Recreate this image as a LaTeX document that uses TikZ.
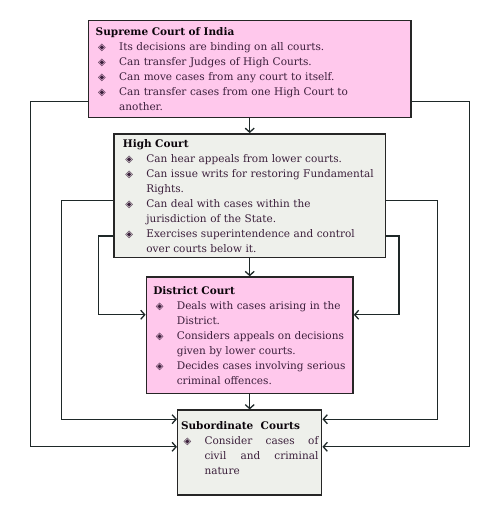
\documentclass[tikz,border=0pt]{standalone}
\usepackage{fontspec}
\setmainfont{DejaVu Serif}
\newfontfamily\symfont{DejaVu Sans}
\usetikzlibrary{positioning,arrows.meta}

\definecolor{courtpink}{HTML}{FFC8EC}
\definecolor{courtgray}{HTML}{EEF0EB}
\definecolor{courtink}{HTML}{3B1F3B}
\definecolor{courtline}{HTML}{1E2828}

\hyphenpenalty=10000
\newcommand{\ttl}[1]{\noindent\textbf{\color{black!80!courtink}#1}\par}
\newcommand{\itm}{\par\noindent\hangindent=23.5pt\hangafter=1\makebox[23.5pt][l]{\hspace{2.5pt}{\symfont\bfseries\fontsize{10}{10}\selectfont ◈}}}

\begin{document}
\begin{tikzpicture}[x=1pt, y=-1pt, line width=1.3pt, draw=courtline,
  court/.style = {draw=black!85, line width=1.5pt, rectangle, align=left, inner ysep=0pt,
                  font=\fontsize{10.5}{15}\selectfont, text=courtink},
  pinkbox/.style = {court, fill=courtpink},
  graybox/.style = {court, fill=courtgray},
  >={Straight Barb[length=4pt,width=9pt]}]
\useasboundingbox (0,0) rectangle (500,510);
% the four courts
\node[pinkbox, text width=308pt, minimum height=96.6pt, inner xsep=7.3pt] (sc) at (249.7,69) {%
  \ttl{Supreme Court of India}
  \itm Its decisions are binding on all courts.
  \itm Can transfer Judges of High Courts.
  \itm Can move cases from any court to itself.
  \itm Can transfer cases from one High Court to\newline another.\par};
\node[graybox, text width=253.7pt, minimum height=123.7pt, inner xsep=9pt] (hc) [below=15pt of sc] {%
  \ttl{High Court}
  \itm Can hear appeals from lower courts.
  \itm \mbox{Can issue writs for restoring Fundamental}\newline Rights.
  \itm Can deal with cases within the\newline jurisdiction of the State.
  \itm \mbox{Exercises superintendence and control}\newline over courts below it.\par};
\node[pinkbox, text width=192.7pt, minimum height=116.7pt, inner xsep=7pt] (dc) [below=18pt of hc] {%
  \ttl{District Court}
  \itm \mbox{Deals with cases arising in the}\newline District.
  \itm \mbox{Considers appeals on decisions}\newline given by lower courts.
  \itm \mbox{Decides cases involving serious}\newline criminal offences.\par};
\node[graybox, align=justify, text width=137.4pt, minimum height=85pt, inner xsep=3.3pt] (sub) [below=15pt of dc] {%
  \ttl{Subordinate\ \ Courts}
  \itm Consider cases of\linebreak civil and criminal\linebreak nature\par\vspace{9pt}};
% straight down
\draw[->] (sc.south) -- (hc.north);
\draw[->] (hc.south) -- (dc.north);
\draw[->] (dc.south) -- (sub.north);
% round the sides
\draw[->] ([yshift=-32.7pt]sc.west) -- ++(-57pt,0) |- ([yshift=5.9pt]sub.west);
\draw[->] ([yshift=-32.7pt]sc.east) -- ++(57.6pt,0) |- ([yshift=5.9pt]sub.east);
\draw[->] ([yshift=-5.2pt]hc.west) -- ++(-51.7pt,0) |- ([yshift=33.5pt]sub.west);
\draw[->] ([yshift=-5.2pt]hc.east) -- ++(51pt,0) |- ([yshift=33.5pt]sub.east);
\draw[->] ([yshift=-40.2pt]hc.west) -- ++(-14.7pt,0) |- ([yshift=20.6pt]dc.west);
\draw[->] ([yshift=-40.2pt]hc.east) -- ++(12.6pt,0) |- ([yshift=20.6pt]dc.east);
\end{tikzpicture}
\end{document}
